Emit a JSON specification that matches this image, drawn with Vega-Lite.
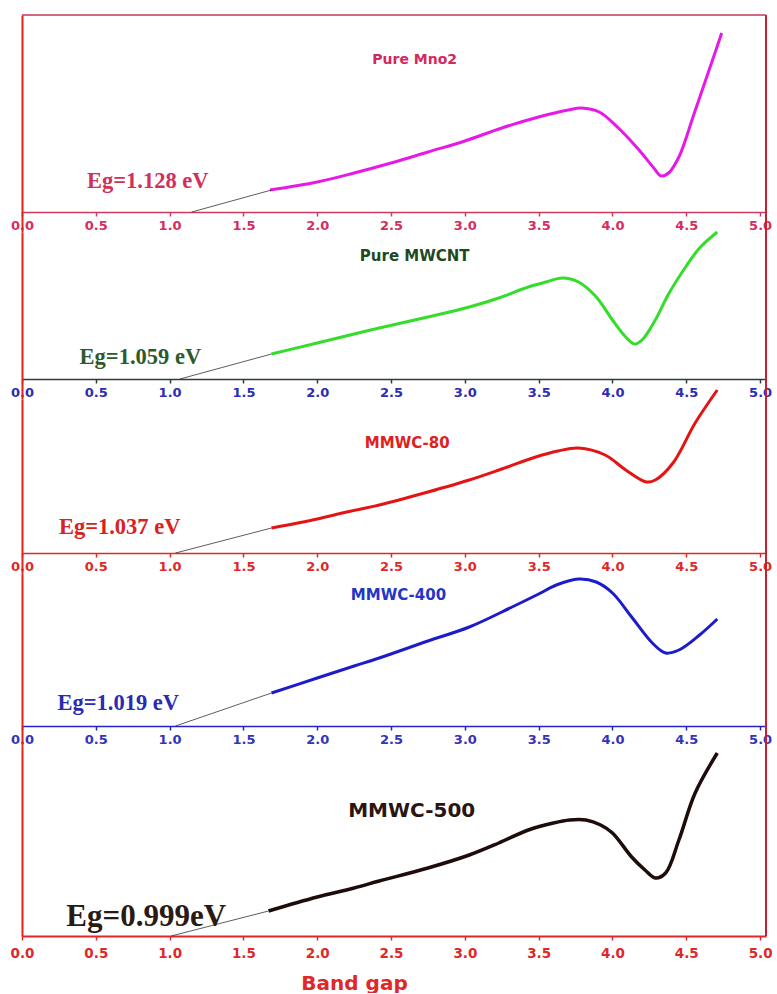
{
  "$schema": "https://vega.github.io/schema/vega-lite/v6.json",
  "padding": {"left": 10, "top": 14, "right": 0, "bottom": 0},
  "background": "white",
  "spacing": 0,
  "bounds": "flush",
  "config": {"view": {"stroke": null}},
  "datasets": {
    "curves": [
      {"sample": "Pure MnO2", "E": 1.68, "A": 0.22}, {"sample": "Pure MnO2", "E": 2.0, "A": 0.30}, {"sample": "Pure MnO2", "E": 2.25, "A": 0.39}, {"sample": "Pure MnO2", "E": 2.5, "A": 0.49}, {"sample": "Pure MnO2", "E": 2.75, "A": 0.60}, {"sample": "Pure MnO2", "E": 3.0, "A": 0.71}, {"sample": "Pure MnO2", "E": 3.25, "A": 0.84}, {"sample": "Pure MnO2", "E": 3.5, "A": 0.95}, {"sample": "Pure MnO2", "E": 3.7, "A": 1.02}, {"sample": "Pure MnO2", "E": 3.79, "A": 1.04}, {"sample": "Pure MnO2", "E": 3.91, "A": 1.00}, {"sample": "Pure MnO2", "E": 4.04, "A": 0.84}, {"sample": "Pure MnO2", "E": 4.18, "A": 0.62}, {"sample": "Pure MnO2", "E": 4.28, "A": 0.44}, {"sample": "Pure MnO2", "E": 4.33, "A": 0.36}, {"sample": "Pure MnO2", "E": 4.38, "A": 0.39}, {"sample": "Pure MnO2", "E": 4.45, "A": 0.55}, {"sample": "Pure MnO2", "E": 4.55, "A": 0.97}, {"sample": "Pure MnO2", "E": 4.65, "A": 1.40}, {"sample": "Pure MnO2", "E": 4.74, "A": 1.79},
      {"sample": "Pure MWCNT", "E": 1.69, "A": 0.25}, {"sample": "Pure MWCNT", "E": 2.0, "A": 0.36}, {"sample": "Pure MWCNT", "E": 2.25, "A": 0.45}, {"sample": "Pure MWCNT", "E": 2.42, "A": 0.51}, {"sample": "Pure MWCNT", "E": 2.75, "A": 0.62}, {"sample": "Pure MWCNT", "E": 3.03, "A": 0.72}, {"sample": "Pure MWCNT", "E": 3.23, "A": 0.81}, {"sample": "Pure MWCNT", "E": 3.43, "A": 0.92}, {"sample": "Pure MWCNT", "E": 3.55, "A": 0.97}, {"sample": "Pure MWCNT", "E": 3.66, "A": 1.01}, {"sample": "Pure MWCNT", "E": 3.77, "A": 0.97}, {"sample": "Pure MWCNT", "E": 3.89, "A": 0.82}, {"sample": "Pure MWCNT", "E": 4.0, "A": 0.59}, {"sample": "Pure MWCNT", "E": 4.09, "A": 0.42}, {"sample": "Pure MWCNT", "E": 4.15, "A": 0.35}, {"sample": "Pure MWCNT", "E": 4.2, "A": 0.39}, {"sample": "Pure MWCNT", "E": 4.29, "A": 0.59}, {"sample": "Pure MWCNT", "E": 4.38, "A": 0.85}, {"sample": "Pure MWCNT", "E": 4.5, "A": 1.13}, {"sample": "Pure MWCNT", "E": 4.59, "A": 1.31}, {"sample": "Pure MWCNT", "E": 4.71, "A": 1.47},
      {"sample": "MMWC-80", "E": 1.69, "A": 0.25}, {"sample": "MMWC-80", "E": 2.0, "A": 0.34}, {"sample": "MMWC-80", "E": 2.2, "A": 0.41}, {"sample": "MMWC-80", "E": 2.42, "A": 0.48}, {"sample": "MMWC-80", "E": 2.75, "A": 0.61}, {"sample": "MMWC-80", "E": 3.03, "A": 0.73}, {"sample": "MMWC-80", "E": 3.25, "A": 0.84}, {"sample": "MMWC-80", "E": 3.48, "A": 0.96}, {"sample": "MMWC-80", "E": 3.63, "A": 1.02}, {"sample": "MMWC-80", "E": 3.77, "A": 1.05}, {"sample": "MMWC-80", "E": 3.95, "A": 0.98}, {"sample": "MMWC-80", "E": 4.09, "A": 0.83}, {"sample": "MMWC-80", "E": 4.23, "A": 0.71}, {"sample": "MMWC-80", "E": 4.29, "A": 0.73}, {"sample": "MMWC-80", "E": 4.41, "A": 0.90}, {"sample": "MMWC-80", "E": 4.56, "A": 1.30}, {"sample": "MMWC-80", "E": 4.71, "A": 1.63},
      {"sample": "MMWC-400", "E": 1.69, "A": 0.33}, {"sample": "MMWC-400", "E": 2.0, "A": 0.48}, {"sample": "MMWC-400", "E": 2.25, "A": 0.60}, {"sample": "MMWC-400", "E": 2.42, "A": 0.68}, {"sample": "MMWC-400", "E": 2.75, "A": 0.85}, {"sample": "MMWC-400", "E": 3.03, "A": 0.99}, {"sample": "MMWC-400", "E": 3.32, "A": 1.19}, {"sample": "MMWC-400", "E": 3.5, "A": 1.32}, {"sample": "MMWC-400", "E": 3.62, "A": 1.41}, {"sample": "MMWC-400", "E": 3.77, "A": 1.47}, {"sample": "MMWC-400", "E": 3.89, "A": 1.44}, {"sample": "MMWC-400", "E": 4.0, "A": 1.33}, {"sample": "MMWC-400", "E": 4.13, "A": 1.09}, {"sample": "MMWC-400", "E": 4.27, "A": 0.83}, {"sample": "MMWC-400", "E": 4.36, "A": 0.73}, {"sample": "MMWC-400", "E": 4.45, "A": 0.76}, {"sample": "MMWC-400", "E": 4.59, "A": 0.91}, {"sample": "MMWC-400", "E": 4.71, "A": 1.07},
      {"sample": "MMWC-500", "E": 1.67, "A": 0.25}, {"sample": "MMWC-500", "E": 2.0, "A": 0.39}, {"sample": "MMWC-500", "E": 2.25, "A": 0.48}, {"sample": "MMWC-500", "E": 2.42, "A": 0.55}, {"sample": "MMWC-500", "E": 2.75, "A": 0.68}, {"sample": "MMWC-500", "E": 3.03, "A": 0.81}, {"sample": "MMWC-500", "E": 3.23, "A": 0.93}, {"sample": "MMWC-500", "E": 3.43, "A": 1.06}, {"sample": "MMWC-500", "E": 3.6, "A": 1.13}, {"sample": "MMWC-500", "E": 3.71, "A": 1.16}, {"sample": "MMWC-500", "E": 3.82, "A": 1.16}, {"sample": "MMWC-500", "E": 3.92, "A": 1.11}, {"sample": "MMWC-500", "E": 4.0, "A": 1.03}, {"sample": "MMWC-500", "E": 4.13, "A": 0.79}, {"sample": "MMWC-500", "E": 4.22, "A": 0.66}, {"sample": "MMWC-500", "E": 4.29, "A": 0.58}, {"sample": "MMWC-500", "E": 4.36, "A": 0.63}, {"sample": "MMWC-500", "E": 4.45, "A": 0.96}, {"sample": "MMWC-500", "E": 4.56, "A": 1.43}, {"sample": "MMWC-500", "E": 4.71, "A": 1.83}
    ],
    "tangents": [
      {"sample": "Pure MnO2", "E": 1.15, "A": 0}, {"sample": "Pure MnO2", "E": 1.69, "A": 0.22},
      {"sample": "Pure MWCNT", "E": 1.07, "A": 0}, {"sample": "Pure MWCNT", "E": 1.69, "A": 0.25},
      {"sample": "MMWC-80", "E": 1.04, "A": 0}, {"sample": "MMWC-80", "E": 1.69, "A": 0.25},
      {"sample": "MMWC-400", "E": 1.04, "A": 0}, {"sample": "MMWC-400", "E": 1.69, "A": 0.33},
      {"sample": "MMWC-500", "E": 1.01, "A": 0}, {"sample": "MMWC-500", "E": 1.67, "A": 0.25}
    ],
    "notes": [
      {"sample": "Pure MnO2", "kind": "name", "E": 2.66, "A": 1.52, "text": "Pure Mno2"},
      {"sample": "Pure MnO2", "kind": "eg", "E": 0.44, "A": 0.31, "text": "Eg=1.128 eV"},
      {"sample": "Pure MWCNT", "kind": "name", "E": 2.66, "A": 1.23, "text": "Pure MWCNT"},
      {"sample": "Pure MWCNT", "kind": "eg", "E": 0.39, "A": 0.22, "text": "Eg=1.059 eV"},
      {"sample": "MMWC-80", "kind": "name", "E": 2.61, "A": 1.10, "text": "MMWC-80"},
      {"sample": "MMWC-80", "kind": "eg", "E": 0.25, "A": 0.26, "text": "Eg=1.037 eV"},
      {"sample": "MMWC-400", "kind": "name", "E": 2.55, "A": 1.31, "text": "MMWC-400"},
      {"sample": "MMWC-400", "kind": "eg", "E": 0.24, "A": 0.23, "text": "Eg=1.019 eV"},
      {"sample": "MMWC-500", "kind": "name", "E": 2.64, "A": 1.25, "text": "MMWC-500"},
      {"sample": "MMWC-500", "kind": "eg", "E": 0.30, "A": 0.19, "text": "Eg=0.999eV"}
    ]
  },
  "vconcat": [
    {
      "width": 744, "height": 217,
      "layer": [
        {"data": {"name": "curves"}, "transform": [{"filter": "datum.sample === 'Pure MnO2'"}],
         "mark": {"type": "line", "color": "#e619e6", "strokeWidth": 3, "interpolate": "catmull-rom"},
         "encoding": {
           "x": {"field": "E", "type": "quantitative", "scale": {"domain": [0, 5.04], "nice": false, "zero": false},
                 "axis": {"values": [0, 0.25, 0.5, 0.75, 1, 1.25, 1.5, 1.75, 2, 2.25, 2.5, 2.75, 3, 3.25, 3.5, 3.75, 4, 4.25, 4.5, 4.75, 5], "labelExpr": "(datum.value * 2) % 1 === 0 ? format(datum.value, '.1f') : ''", "offset": -20, "title": null, "grid": false, "domainColor": "#cf3a5e", "domainWidth": 1.5, "tickColor": "#cf3a5e", "tickWidth": 1.5, "tickSize": 4, "labelColor": "#d62c5e", "labelFont": "DejaVu Sans", "labelFontWeight": "bold", "labelFontSize": 13, "labelPadding": 3, "labelOverlap": false, "labelFlush": false}},
           "y": {"field": "A", "type": "quantitative", "scale": {"domain": [-0.2, 1.97], "nice": false, "zero": false},
                 "axis": {"domainColor": "#e2231a", "domainWidth": 2, "ticks": false, "labels": false, "grid": false, "title": null}}
         }},
        {"data": {"name": "tangents"}, "transform": [{"filter": "datum.sample === 'Pure MnO2'"}],
         "mark": {"type": "line", "color": "#333333", "strokeWidth": 0.8},
         "encoding": {"x": {"field": "E", "type": "quantitative"}, "y": {"field": "A", "type": "quantitative"}}},
        {"data": {"name": "notes"}, "transform": [{"filter": "datum.sample === 'Pure MnO2' && datum.kind === 'name'"}],
         "mark": {"type": "text", "font": "DejaVu Sans", "fontWeight": "bold", "fontSize": 14, "color": "#d22860", "align": "center", "baseline": "middle"},
         "encoding": {"x": {"field": "E", "type": "quantitative"}, "y": {"field": "A", "type": "quantitative"}, "text": {"field": "text"}}},
        {"data": {"name": "notes"}, "transform": [{"filter": "datum.sample === 'Pure MnO2' && datum.kind === 'eg'"}],
         "mark": {"type": "text", "font": "Liberation Serif", "fontWeight": "bold", "fontSize": 22.5, "color": "#d0305a", "align": "left", "baseline": "middle"},
         "encoding": {"x": {"field": "E", "type": "quantitative"}, "y": {"field": "A", "type": "quantitative"}, "text": {"field": "text"}}},
        {"data": {"values": [{}]}, "mark": {"type": "rule", "color": "#c81e32", "strokeWidth": 2},
         "encoding": {"x": {"datum": 5.04, "type": "quantitative"}}},
        {"data": {"values": [{}]}, "mark": {"type": "rule", "color": "#c8345a", "strokeWidth": 1.5},
         "encoding": {"y": {"datum": 1.97, "type": "quantitative"}}}
      ]
    },
    {
      "width": 744, "height": 167,
      "layer": [
        {"data": {"name": "curves"}, "transform": [{"filter": "datum.sample === 'Pure MWCNT'"}],
         "mark": {"type": "line", "color": "#33dd2a", "strokeWidth": 3, "interpolate": "catmull-rom"},
         "encoding": {
           "x": {"field": "E", "type": "quantitative", "scale": {"domain": [0, 5.04], "nice": false, "zero": false},
                 "axis": {"values": [0, 0.25, 0.5, 0.75, 1, 1.25, 1.5, 1.75, 2, 2.25, 2.5, 2.75, 3, 3.25, 3.5, 3.75, 4, 4.25, 4.5, 4.75, 5], "labelExpr": "(datum.value * 2) % 1 === 0 ? format(datum.value, '.1f') : ''", "offset": -20, "title": null, "grid": false, "domainColor": "#2f3f2f", "domainWidth": 1.5, "tickColor": "#2f3f2f", "tickWidth": 1.5, "tickSize": 4, "labelColor": "#2c2cb4", "labelFont": "DejaVu Sans", "labelFontWeight": "bold", "labelFontSize": 13, "labelPadding": 3, "labelOverlap": false, "labelFlush": false}},
           "y": {"field": "A", "type": "quantitative", "scale": {"domain": [-0.2, 1.47], "nice": false, "zero": false},
                 "axis": {"domainColor": "#e2231a", "domainWidth": 2, "ticks": false, "labels": false, "grid": false, "title": null}}
         }},
        {"data": {"name": "tangents"}, "transform": [{"filter": "datum.sample === 'Pure MWCNT'"}],
         "mark": {"type": "line", "color": "#333333", "strokeWidth": 0.8},
         "encoding": {"x": {"field": "E", "type": "quantitative"}, "y": {"field": "A", "type": "quantitative"}}},
        {"data": {"name": "notes"}, "transform": [{"filter": "datum.sample === 'Pure MWCNT' && datum.kind === 'name'"}],
         "mark": {"type": "text", "font": "DejaVu Sans", "fontWeight": "bold", "fontSize": 15, "color": "#1f4a1f", "align": "center", "baseline": "middle"},
         "encoding": {"x": {"field": "E", "type": "quantitative"}, "y": {"field": "A", "type": "quantitative"}, "text": {"field": "text"}}},
        {"data": {"name": "notes"}, "transform": [{"filter": "datum.sample === 'Pure MWCNT' && datum.kind === 'eg'"}],
         "mark": {"type": "text", "font": "Liberation Serif", "fontWeight": "bold", "fontSize": 22.5, "color": "#2d5a2d", "align": "left", "baseline": "middle"},
         "encoding": {"x": {"field": "E", "type": "quantitative"}, "y": {"field": "A", "type": "quantitative"}, "text": {"field": "text"}}},
        {"data": {"values": [{}]}, "mark": {"type": "rule", "color": "#c81e32", "strokeWidth": 2},
         "encoding": {"x": {"datum": 5.04, "type": "quantitative"}}}
      ]
    },
    {
      "width": 744, "height": 174,
      "layer": [
        {"data": {"name": "curves"}, "transform": [{"filter": "datum.sample === 'MMWC-80'"}],
         "mark": {"type": "line", "color": "#e41414", "strokeWidth": 3, "interpolate": "catmull-rom"},
         "encoding": {
           "x": {"field": "E", "type": "quantitative", "scale": {"domain": [0, 5.04], "nice": false, "zero": false},
                 "axis": {"values": [0, 0.25, 0.5, 0.75, 1, 1.25, 1.5, 1.75, 2, 2.25, 2.5, 2.75, 3, 3.25, 3.5, 3.75, 4, 4.25, 4.5, 4.75, 5], "labelExpr": "(datum.value * 2) % 1 === 0 ? format(datum.value, '.1f') : ''", "offset": -20, "title": null, "grid": false, "domainColor": "#e02828", "domainWidth": 1.5, "tickColor": "#e02828", "tickWidth": 1.5, "tickSize": 4, "labelColor": "#e02828", "labelFont": "DejaVu Sans", "labelFontWeight": "bold", "labelFontSize": 13, "labelPadding": 3, "labelOverlap": false, "labelFlush": false}},
           "y": {"field": "A", "type": "quantitative", "scale": {"domain": [-0.2, 1.54], "nice": false, "zero": false},
                 "axis": {"domainColor": "#e2231a", "domainWidth": 2, "ticks": false, "labels": false, "grid": false, "title": null}}
         }},
        {"data": {"name": "tangents"}, "transform": [{"filter": "datum.sample === 'MMWC-80'"}],
         "mark": {"type": "line", "color": "#333333", "strokeWidth": 0.8},
         "encoding": {"x": {"field": "E", "type": "quantitative"}, "y": {"field": "A", "type": "quantitative"}}},
        {"data": {"name": "notes"}, "transform": [{"filter": "datum.sample === 'MMWC-80' && datum.kind === 'name'"}],
         "mark": {"type": "text", "font": "DejaVu Sans", "fontWeight": "bold", "fontSize": 15, "color": "#e02020", "align": "center", "baseline": "middle"},
         "encoding": {"x": {"field": "E", "type": "quantitative"}, "y": {"field": "A", "type": "quantitative"}, "text": {"field": "text"}}},
        {"data": {"name": "notes"}, "transform": [{"filter": "datum.sample === 'MMWC-80' && datum.kind === 'eg'"}],
         "mark": {"type": "text", "font": "Liberation Serif", "fontWeight": "bold", "fontSize": 22.5, "color": "#d82222", "align": "left", "baseline": "middle"},
         "encoding": {"x": {"field": "E", "type": "quantitative"}, "y": {"field": "A", "type": "quantitative"}, "text": {"field": "text"}}},
        {"data": {"values": [{}]}, "mark": {"type": "rule", "color": "#c81e32", "strokeWidth": 2},
         "encoding": {"x": {"datum": 5.04, "type": "quantitative"}}}
      ]
    },
    {
      "width": 744, "height": 173,
      "layer": [
        {"data": {"name": "curves"}, "transform": [{"filter": "datum.sample === 'MMWC-400'"}],
         "mark": {"type": "line", "color": "#1c1cc8", "strokeWidth": 3, "interpolate": "catmull-rom"},
         "encoding": {
           "x": {"field": "E", "type": "quantitative", "scale": {"domain": [0, 5.04], "nice": false, "zero": false},
                 "axis": {"values": [0, 0.25, 0.5, 0.75, 1, 1.25, 1.5, 1.75, 2, 2.25, 2.5, 2.75, 3, 3.25, 3.5, 3.75, 4, 4.25, 4.5, 4.75, 5], "labelExpr": "(datum.value * 2) % 1 === 0 ? format(datum.value, '.1f') : ''", "offset": -20, "title": null, "grid": false, "domainColor": "#2424c4", "domainWidth": 1.5, "tickColor": "#2424c4", "tickWidth": 1.5, "tickSize": 4, "labelColor": "#3434b8", "labelFont": "DejaVu Sans", "labelFontWeight": "bold", "labelFontSize": 13, "labelPadding": 3, "labelOverlap": false, "labelFlush": false}},
           "y": {"field": "A", "type": "quantitative", "scale": {"domain": [-0.2, 1.53], "nice": false, "zero": false},
                 "axis": {"domainColor": "#e2231a", "domainWidth": 2, "ticks": false, "labels": false, "grid": false, "title": null}}
         }},
        {"data": {"name": "tangents"}, "transform": [{"filter": "datum.sample === 'MMWC-400'"}],
         "mark": {"type": "line", "color": "#333333", "strokeWidth": 0.8},
         "encoding": {"x": {"field": "E", "type": "quantitative"}, "y": {"field": "A", "type": "quantitative"}}},
        {"data": {"name": "notes"}, "transform": [{"filter": "datum.sample === 'MMWC-400' && datum.kind === 'name'"}],
         "mark": {"type": "text", "font": "DejaVu Sans", "fontWeight": "bold", "fontSize": 15, "color": "#2535c8", "align": "center", "baseline": "middle"},
         "encoding": {"x": {"field": "E", "type": "quantitative"}, "y": {"field": "A", "type": "quantitative"}, "text": {"field": "text"}}},
        {"data": {"name": "notes"}, "transform": [{"filter": "datum.sample === 'MMWC-400' && datum.kind === 'eg'"}],
         "mark": {"type": "text", "font": "Liberation Serif", "fontWeight": "bold", "fontSize": 22.5, "color": "#2a2ab4", "align": "left", "baseline": "middle"},
         "encoding": {"x": {"field": "E", "type": "quantitative"}, "y": {"field": "A", "type": "quantitative"}, "text": {"field": "text"}}},
        {"data": {"values": [{}]}, "mark": {"type": "rule", "color": "#c81e32", "strokeWidth": 2},
         "encoding": {"x": {"datum": 5.04, "type": "quantitative"}}}
      ]
    },
    {
      "width": 744, "height": 190,
      "layer": [
        {"data": {"name": "curves"}, "transform": [{"filter": "datum.sample === 'MMWC-500'"}],
         "mark": {"type": "line", "color": "#1e0c0c", "strokeWidth": 3.5, "interpolate": "catmull-rom"},
         "encoding": {
           "x": {"field": "E", "type": "quantitative", "scale": {"domain": [0, 5.04], "nice": false, "zero": false},
                 "axis": {"values": [0, 0.25, 0.5, 0.75, 1, 1.25, 1.5, 1.75, 2, 2.25, 2.5, 2.75, 3, 3.25, 3.5, 3.75, 4, 4.25, 4.5, 4.75, 5], "labelExpr": "(datum.value * 2) % 1 === 0 ? format(datum.value, '.1f') : ''", "title": "Band gap", "titleX": 332, "titleY": 47, "titleAlign": "center", "titleBaseline": "middle", "titleColor": "#e02828", "titleFont": "DejaVu Sans", "titleFontWeight": "bold", "titleFontSize": 20, "grid": false, "domainColor": "#e02828", "domainWidth": 2, "tickColor": "#e02828", "tickWidth": 1.5, "tickSize": 4, "labelColor": "#e02828", "labelFont": "DejaVu Sans", "labelFontWeight": "bold", "labelFontSize": 13.5, "labelPadding": 6, "labelOverlap": false, "labelFlush": false}},
           "y": {"field": "A", "type": "quantitative", "scale": {"domain": [0, 1.9], "nice": false, "zero": false},
                 "axis": {"domainColor": "#e2231a", "domainWidth": 2, "ticks": false, "labels": false, "grid": false, "title": null}}
         }},
        {"data": {"name": "tangents"}, "transform": [{"filter": "datum.sample === 'MMWC-500'"}],
         "mark": {"type": "line", "color": "#333333", "strokeWidth": 0.8},
         "encoding": {"x": {"field": "E", "type": "quantitative"}, "y": {"field": "A", "type": "quantitative"}}},
        {"data": {"name": "notes"}, "transform": [{"filter": "datum.sample === 'MMWC-500' && datum.kind === 'name'"}],
         "mark": {"type": "text", "font": "DejaVu Sans", "fontWeight": "bold", "fontSize": 20, "color": "#2a1510", "align": "center", "baseline": "middle"},
         "encoding": {"x": {"field": "E", "type": "quantitative"}, "y": {"field": "A", "type": "quantitative"}, "text": {"field": "text"}}},
        {"data": {"name": "notes"}, "transform": [{"filter": "datum.sample === 'MMWC-500' && datum.kind === 'eg'"}],
         "mark": {"type": "text", "font": "Liberation Serif", "fontWeight": "bold", "fontSize": 31, "color": "#2a1a12", "align": "left", "baseline": "middle"},
         "encoding": {"x": {"field": "E", "type": "quantitative"}, "y": {"field": "A", "type": "quantitative"}, "text": {"field": "text"}}},
        {"data": {"values": [{}]}, "mark": {"type": "rule", "color": "#c81e32", "strokeWidth": 2},
         "encoding": {"x": {"datum": 5.04, "type": "quantitative"}}}
      ]
    }
  ]
}
